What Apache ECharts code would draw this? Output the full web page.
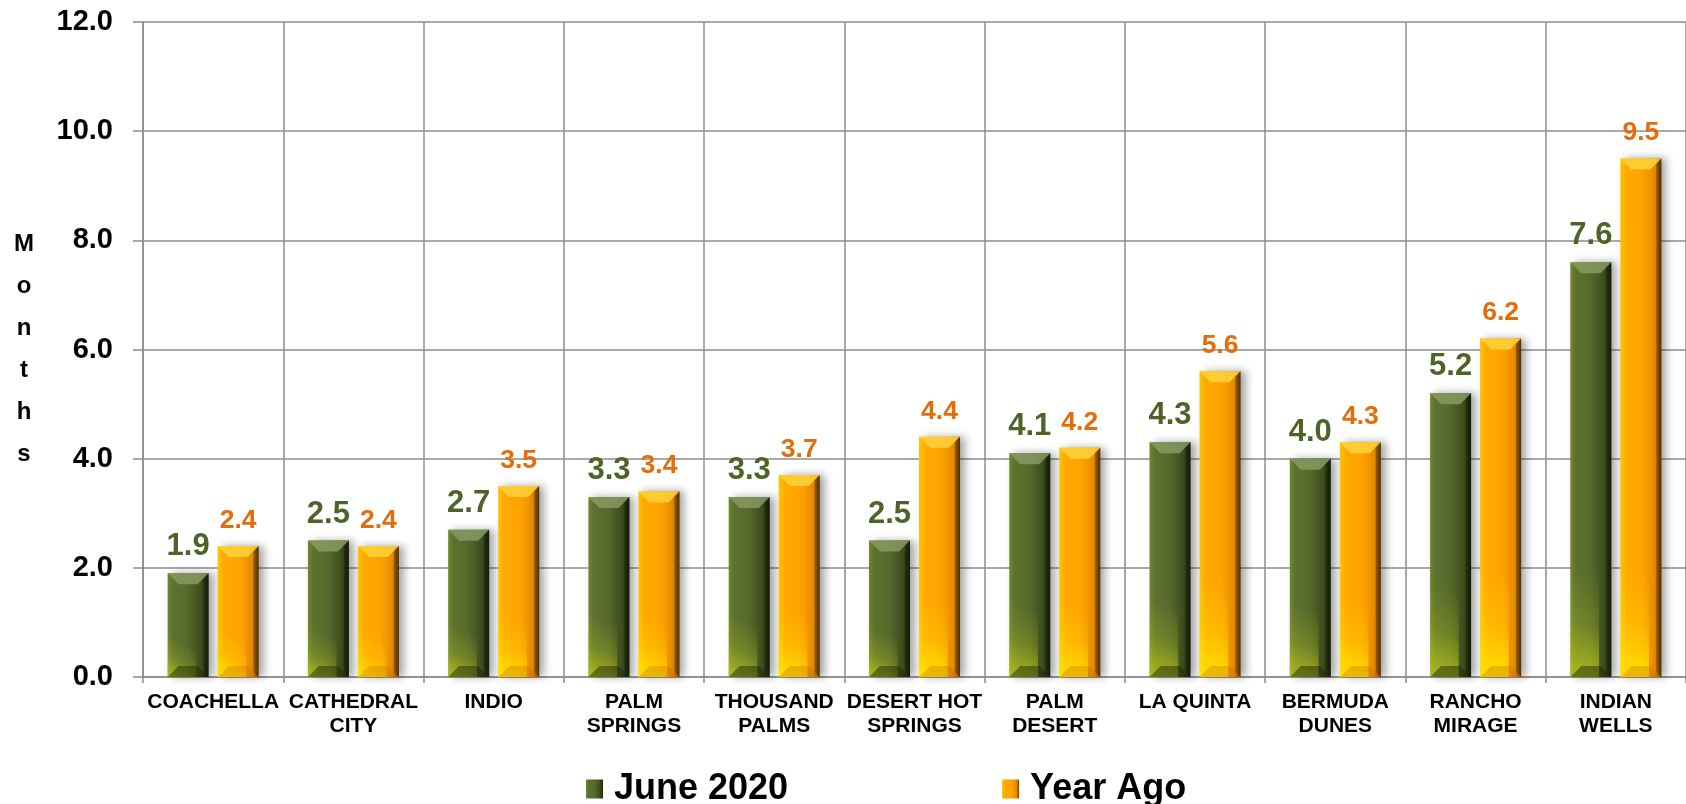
<!DOCTYPE html>
<html><head><meta charset="utf-8">
<script src="https://cdn.jsdelivr.net/npm/echarts@6/dist/echarts.min.js"></script>
<style>html,body{margin:0;padding:0;background:#fff}#c{width:1686px;height:804px}</style>
</head><body><div id="c"></div>
<script>
const categories = ['COACHELLA', 'CATHEDRAL\nCITY', 'INDIO', 'PALM\nSPRINGS', 'THOUSAND\nPALMS', 'DESERT HOT\nSPRINGS', 'PALM\nDESERT', 'LA QUINTA', 'BERMUDA\nDUNES', 'RANCHO\nMIRAGE', 'INDIAN\nWELLS'];
const june2020 = [1.9, 2.5, 2.7, 3.3, 3.3, 2.5, 4.1, 4.3, 4.0, 5.2, 7.6];
const yearAgo = [2.4, 2.4, 3.5, 3.4, 3.7, 4.4, 4.2, 5.6, 4.3, 6.2, 9.5];
const seriesNames = ['June 2020', 'Year Ago'];
const yMin = 0, yMax = 12, yInterval = 2;
const axisTitle = 'Months';

const FONT = "'Liberation Sans', Arial, sans-serif";
const BAR_W = 41, BAR_GAP = 0.22;
const greenFill = new echarts.graphic.LinearGradient(0, 0, 1, 0, [
  {offset: 0, color: '#74872b'}, {offset: 0.12, color: '#5e722f'}, {offset: 0.5, color: '#55692c'},
  {offset: 0.82, color: '#3d4c1d'}, {offset: 1, color: '#1c240b'}]);
const orangeFill = new echarts.graphic.LinearGradient(0, 0, 1, 0, [
  {offset: 0, color: '#ffc400'}, {offset: 0.15, color: '#ffaa00'}, {offset: 0.55, color: '#ffa200'},
  {offset: 0.84, color: '#e58a00'}, {offset: 1, color: '#6e3f00'}]);
const shadow = {shadowBlur: 8, shadowColor: 'rgba(0,0,0,0.35)', shadowOffsetX: 5, shadowOffsetY: 0};

const palettes = [
  {top: '#879a62', bottom: 'rgba(25,32,8,0.45)', glow: [205, 215, 20], glowA: 0.7},
  {top: '#ffd23a', bottom: 'rgba(190,100,0,0.3)', glow: [255, 235, 0], glowA: 0.85}
];

function bevel(sideSign, pal) {
  const g = pal.glow.join(',');
  return function (params, api) {
    const idx = api.value(0), val = api.value(1);
    const top = api.coord([idx, val]);
    const base = api.coord([idx, 0]);
    const cx = top[0] + sideSign * (BAR_W * (1 + BAR_GAP)) / 2;
    const x0 = cx - BAR_W / 2, x1 = cx + BAR_W / 2, y0 = top[1], y1 = base[1];
    const b = 11, h = y1 - y0;
    const gh = Math.min(h * 0.45, 150);
    return {
      type: 'group', silent: true,
      children: [
        {type: 'rect', shape: {x: x0, y: y1 - gh, width: BAR_W * 0.7, height: gh},
          style: {fill: new echarts.graphic.LinearGradient(0, 1, 0.9, 0, [
            {offset: 0, color: 'rgba(' + g + ',' + pal.glowA + ')'},
            {offset: 0.35, color: 'rgba(' + g + ',' + (pal.glowA * 0.3) + ')'},
            {offset: 0.7, color: 'rgba(' + g + ',0)'}])}},
        {type: 'polygon', shape: {points: [[x0, y0], [x1, y0], [x1 - b, y0 + b], [x0 + b, y0 + b]]},
          style: {fill: pal.top, opacity: 0.85}},
        {type: 'polygon', shape: {points: [[x0, y1], [x1, y1], [x1 - b, y1 - b], [x0 + b, y1 - b]]},
          style: {fill: pal.bottom}},
        {type: 'polygon', shape: {points: [[x1, y0], [x1, y1], [x1 - 5, y1 - 5], [x1 - 5, y0 + 5]]},
          style: {fill: 'rgba(0,0,0,0.25)'}}
      ]
    };
  };
}

const chart = echarts.init(document.getElementById('c'), null, {renderer: 'canvas'});
chart.setOption({
  animation: false,
  backgroundColor: '#ffffff',
  grid: {left: 143, top: 22, width: 1552, height: 655, containLabel: false},
  legend: {
    left: 581, top: 766, itemGap: 214, itemWidth: 17, itemHeight: 19, icon: 'rect',
    itemStyle: {shadowBlur: 0, shadowOffsetX: 0},
    textStyle: {fontFamily: FONT, fontWeight: 'bold', fontSize: 36, color: '#000', padding: [0, 0, 0, 6]},
    data: seriesNames
  },
  xAxis: {
    type: 'category', data: categories,
    axisLine: {lineStyle: {color: '#8c8c8c', width: 1.5}},
    axisTick: {show: true, length: 6, lineStyle: {color: '#8c8c8c', width: 1.5}},
    splitLine: {show: true, lineStyle: {color: '#8c8c8c', width: 1.5}},
    axisLabel: {interval: 0, margin: 13, fontFamily: FONT, fontWeight: 'bold', fontSize: 21, lineHeight: 24, color: '#000'}
  },
  yAxis: {
    type: 'value', min: yMin, max: yMax, interval: yInterval,
    name: axisTitle.split('').join('\n'), nameLocation: 'middle', nameRotate: 0, nameGap: 119,
    nameTextStyle: {fontFamily: FONT, fontWeight: 'bold', fontSize: 24, lineHeight: 42, color: '#000', align: 'center', verticalAlign: 'middle'},
    axisLine: {show: true, lineStyle: {color: '#8c8c8c', width: 1.5}},
    axisTick: {show: true, length: 10, lineStyle: {color: '#8c8c8c', width: 1.5}},
    splitLine: {show: true, lineStyle: {color: '#8c8c8c', width: 1.5}},
    axisLabel: {margin: 30, fontFamily: FONT, fontWeight: 'bold', fontSize: 29, color: '#000',
      formatter: v => v.toFixed(1)}
  },
  series: [
    {
      name: seriesNames[0], type: 'bar', data: june2020, barWidth: BAR_W, barGap: (BAR_GAP * 100) + '%',
      itemStyle: Object.assign({color: greenFill}, shadow),
      label: {show: true, position: 'top', distance: 11, fontFamily: FONT, fontWeight: 'bold', fontSize: 31, color: '#4f6228',
        formatter: p => p.value.toFixed(1)}
    },
    {
      name: seriesNames[1], type: 'bar', data: yearAgo, barWidth: BAR_W, barGap: (BAR_GAP * 100) + '%',
      itemStyle: Object.assign({color: orangeFill}, shadow),
      label: {show: true, position: 'top', distance: 12, fontFamily: FONT, fontWeight: 'bold', fontSize: 26.5, color: '#e46c0a',
        formatter: p => p.value.toFixed(1)}
    },
    {
      type: 'custom', silent: true, z: 3, renderItem: bevel(-1, palettes[0]),
      data: june2020.map((v, i) => [i, v]), encode: {x: 0, y: 1}, tooltip: {show: false}
    },
    {
      type: 'custom', silent: true, z: 3, renderItem: bevel(1, palettes[1]),
      data: yearAgo.map((v, i) => [i, v]), encode: {x: 0, y: 1}, tooltip: {show: false}
    }
  ]
});
</script></body></html>
